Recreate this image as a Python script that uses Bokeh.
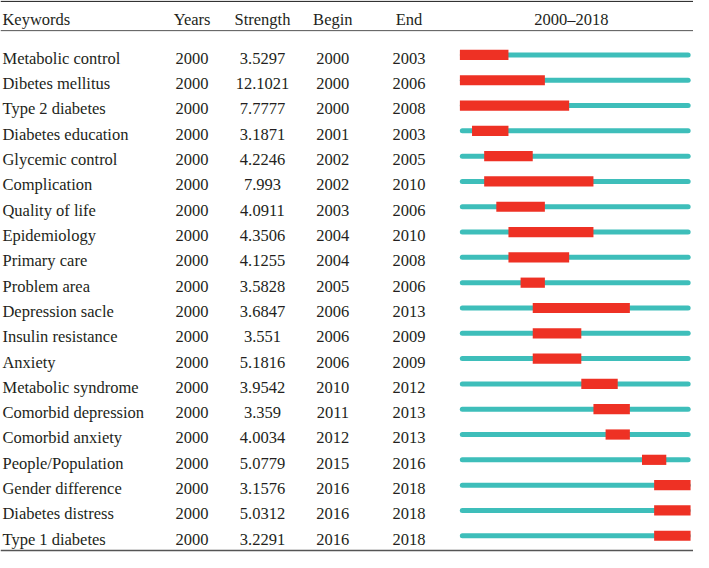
from bokeh.plotting import figure
from bokeh.models import Range1d, Span, ColumnDataSource
from bokeh.core.properties import value
from bokeh.embed import file_html
from bokeh.resources import INLINE

# ---------------- data ----------------
keywords = ["Metabolic control", "Dibetes mellitus", "Type 2 diabetes", "Diabetes education",
            "Glycemic control", "Complication", "Quality of life", "Epidemiology", "Primary care",
            "Problem area", "Depression sacle", "Insulin resistance", "Anxiety", "Metabolic syndrome",
            "Comorbid depression", "Comorbid anxiety", "People/Population", "Gender difference",
            "Diabetes distress", "Type 1 diabetes"]
years = [2000] * 20
strength = [3.5297, 12.1021, 7.7777, 3.1871, 4.2246, 7.993, 4.0911, 4.3506, 4.1255, 3.5828,
            3.6847, 3.551, 5.1816, 3.9542, 3.359, 4.0034, 5.0779, 3.1576, 5.0312, 3.2291]
begin = [2000, 2000, 2000, 2001, 2002, 2002, 2003, 2004, 2004, 2005,
         2006, 2006, 2006, 2010, 2011, 2012, 2015, 2016, 2016, 2016]
end = [2003, 2006, 2008, 2003, 2005, 2010, 2006, 2010, 2008, 2006,
       2013, 2009, 2009, 2012, 2013, 2013, 2016, 2018, 2018, 2018]
headers = ["Keywords", "Years", "Strength", "Begin", "End", "2000\u20132018"]
first_year, last_year = 2000, 2018

# ---------------- layout / style ----------------
W, H = 693, 552
REF_W = 709.0
TL_LEFT, TL_RIGHT = 470.0, 706.0          # timeline position in layout units
ROW0, ROW_STEP = 56.0, 26.04              # layout units
REF_H = 568.0

def ly(px):
    return (px - ROW0) / ROW_STEP

col_x = {"kw": 2, "years": 196, "strength": 268, "begin": 340, "end": 418, "tl": 584}
FONT = "Liberation Serif"
FS = "16.5px"
TXT = "#231F20"
RED = "#EE3124"
TEAL = "#3EBEBA"

n_years = last_year - first_year + 1
px_per_year = (TL_RIGHT - TL_LEFT) / n_years
yr_start = first_year - TL_LEFT / px_per_year
yr_end = first_year + (REF_W - TL_LEFT) / px_per_year

p = figure(width=W, height=H, x_range=Range1d(0, REF_W),
           y_range=Range1d(ly(REF_H), ly(0)),
           toolbar_location=None, output_backend="svg",
           x_axis_type=None, y_axis_type=None, min_border=0)
p.extra_x_ranges = {"yr": Range1d(yr_start, yr_end)}
p.xgrid.visible = False
p.ygrid.visible = False
p.outline_line_color = None
p.background_fill_color = "white"
p.border_fill_color = "white"

rows = list(range(len(keywords)))
src = ColumnDataSource(dict(
    row=rows,
    kw=keywords,
    years=[str(v) for v in years],
    strength=[str(v) for v in strength],
    begin_s=[str(v) for v in begin],
    end_s=[str(v) for v in end],
    left=begin,
    right=[e + 1 for e in end],
    tl0=[first_year + 0.2] * len(rows),
    tl1=[last_year + 1 - 0.2] * len(rows),
))

# timeline lines
p.segment(x0="tl0", x1="tl1", y0="row", y1="row", source=src, x_range_name="yr",
          line_color=TEAL, line_width=5, line_cap="round")
# burst bars
bar_h = 10.5 / ROW_STEP
p.hbar(y="row", left="left", right="right", height=bar_h, source=src, x_range_name="yr",
       fill_color=RED, line_color=None)

# table text
text_off = 3.5 / ROW_STEP
common = dict(text_font=value(FONT), text_font_size=FS, text_color=TXT,
              text_baseline="alphabetic")
src_t = ColumnDataSource(dict(y=[r + text_off for r in rows], kw=keywords,
                              years=src.data["years"], strength=src.data["strength"],
                              b=src.data["begin_s"], e=src.data["end_s"]))
p.text(x=col_x["kw"], y="y", text="kw", source=src_t, text_align="left", **common)
p.text(x=col_x["years"], y="y", text="years", source=src_t, text_align="center", **common)
p.text(x=col_x["strength"], y="y", text="strength", source=src_t, text_align="center", **common)
p.text(x=col_x["begin"], y="y", text="b", source=src_t, text_align="center", **common)
p.text(x=col_x["end"], y="y", text="e", source=src_t, text_align="center", **common)

# headers
hy = ly(19.5)
hx = [col_x["kw"], col_x["years"], col_x["strength"], col_x["begin"], col_x["end"], col_x["tl"]]
ha = ["left", "center", "center", "center", "center", "center"]
src_h = ColumnDataSource(dict(x=hx, y=[hy] * len(headers), t=headers, a=ha))
p.text(x="x", y="y", text="t", text_align="a", source=src_h,
       text_font=value(FONT), text_font_size=FS, text_color=TXT, text_baseline="alphabetic")

# rules
p.add_layout(Span(location=ly(1.0), dimension="width", line_color="#333333", line_width=1.3))
p.add_layout(Span(location=ly(31.0), dimension="width", line_color="#555555", line_width=1.0))
p.add_layout(Span(location=ly(566.0), dimension="width", line_color="#555555", line_width=1.5))

open("out.html", "w").write(file_html(p, INLINE))
